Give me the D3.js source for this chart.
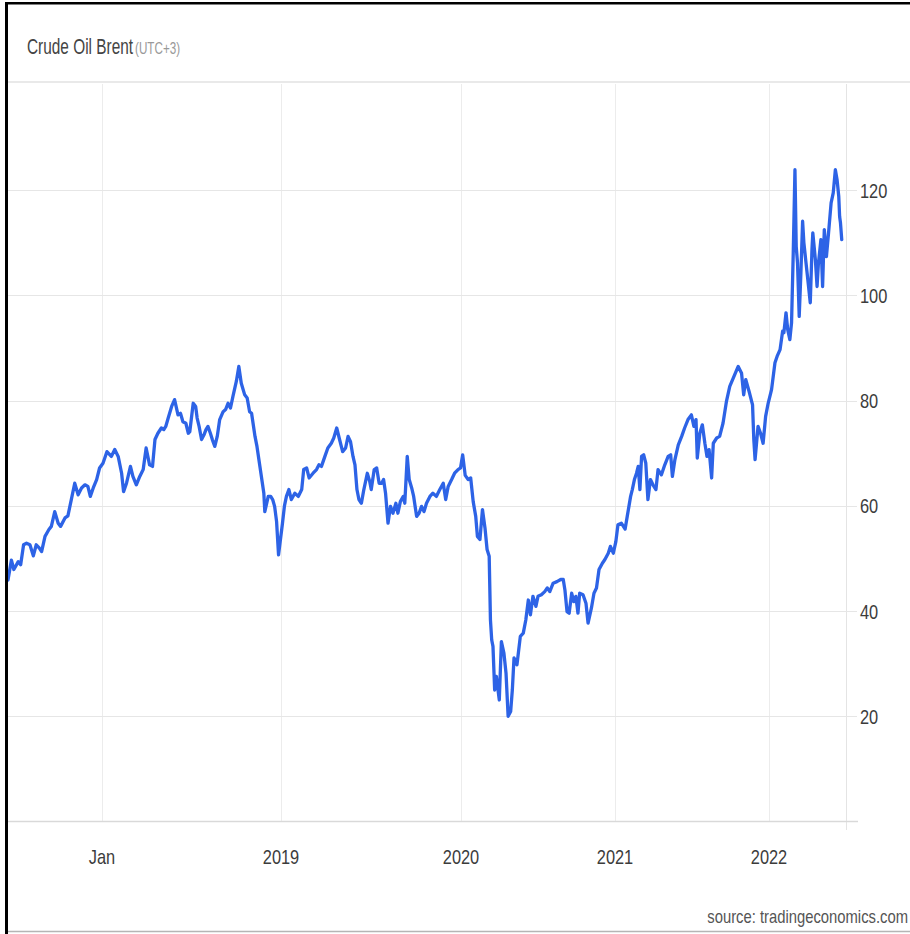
<!DOCTYPE html>
<html><head><meta charset="utf-8">
<script src="https://cdn.jsdelivr.net/npm/d3@7"></script>
<style>html,body{margin:0;padding:0;background:#fff}svg{display:block}</style>
</head><body>
<svg id="chart" width="910" height="934"></svg>
<script>
// ---------------- DATA ----------------
const title = "Crude Oil Brent";
const subtitle = "(UTC+3)";
const sourceText = "source: tradingeconomics.com";

const dates = [
"2017-06-22","2017-06-29","2017-07-04","2017-07-13","2017-07-18","2017-07-24","2017-07-30","2017-08-06","2017-08-13","2017-08-19",
"2017-08-25","2017-08-30","2017-09-06","2017-09-14","2017-09-19","2017-09-26","2017-10-03","2017-10-08","2017-10-17","2017-10-23",
"2017-10-30","2017-11-06","2017-11-13","2017-11-20","2017-11-27","2017-12-03","2017-12-08","2017-12-14","2017-12-21","2017-12-27",
"2018-01-03","2018-01-11","2018-01-20","2018-01-27","2018-02-03","2018-02-10","2018-02-14","2018-02-20","2018-02-28","2018-03-05",
"2018-03-12","2018-03-19","2018-03-26","2018-04-01","2018-04-08","2018-04-14","2018-04-19","2018-04-25","2018-05-02","2018-05-07",
"2018-05-11","2018-05-16","2018-05-23","2018-05-29","2018-06-05","2018-06-10","2018-06-15","2018-06-21","2018-06-26","2018-06-29",
"2018-07-06","2018-07-11","2018-07-14","2018-07-18","2018-07-23","2018-07-28","2018-08-01","2018-08-05","2018-08-10","2018-08-14",
"2018-08-19","2018-08-24","2018-08-29","2018-09-05","2018-09-10","2018-09-15","2018-09-20","2018-09-25","2018-10-02","2018-10-07",
"2018-10-12","2018-10-19","2018-10-24","2018-10-29","2018-11-02","2018-11-09","2018-11-13","2018-11-19","2018-11-22","2018-11-27",
"2018-11-29","2018-12-06","2018-12-11","2018-12-15","2018-12-19","2018-12-23","2018-12-27",
"2019-01-04","2019-01-08","2019-01-12","2019-01-17","2019-01-22","2019-01-29","2019-02-05","2019-02-12","2019-02-16","2019-02-22",
"2019-02-27","2019-03-07","2019-03-14","2019-03-19","2019-03-24","2019-03-31","2019-04-06","2019-04-13","2019-04-18","2019-04-24",
"2019-04-29","2019-05-06","2019-05-12","2019-05-17","2019-05-22","2019-05-27","2019-05-31","2019-06-04","2019-06-08","2019-06-13",
"2019-06-18","2019-06-25","2019-06-30","2019-07-03","2019-07-09","2019-07-14","2019-07-19","2019-07-24","2019-07-28","2019-08-01",
"2019-08-06","2019-08-11","2019-08-16","2019-08-22","2019-08-26","2019-08-31","2019-09-06","2019-09-09","2019-09-14","2019-09-18",
"2019-09-23","2019-09-27","2019-10-03","2019-10-08","2019-10-13","2019-10-18","2019-10-23","2019-10-30","2019-11-05","2019-11-12",
"2019-11-19","2019-11-26","2019-12-01","2019-12-06","2019-12-13","2019-12-19","2019-12-26","2019-12-31",
"2020-01-05","2020-01-11","2020-01-18","2020-01-24","2020-01-30","2020-02-05","2020-02-09","2020-02-15","2020-02-21","2020-02-27",
"2020-03-03","2020-03-08","2020-03-11","2020-03-14","2020-03-17","2020-03-21","2020-03-25","2020-04-01","2020-04-06","2020-04-12",
"2020-04-17","2020-04-22","2020-04-28","2020-05-02","2020-05-06","2020-05-13","2020-05-21","2020-05-28","2020-06-03","2020-06-09",
"2020-06-14","2020-06-20","2020-06-27","2020-07-02","2020-07-10","2020-07-18","2020-07-24","2020-07-30","2020-08-07","2020-08-16",
"2020-08-25","2020-08-31","2020-09-04","2020-09-09","2020-09-14","2020-09-20","2020-09-25","2020-09-30","2020-10-05","2020-10-09",
"2020-10-17","2020-10-24","2020-10-29","2020-11-06","2020-11-12","2020-11-18","2020-11-24","2020-12-02","2020-12-08","2020-12-16",
"2020-12-21","2020-12-28",
"2021-01-03","2021-01-08","2021-01-16","2021-01-25","2021-01-30","2021-02-03","2021-02-07","2021-02-11","2021-02-16","2021-02-21",
"2021-02-25","2021-03-01","2021-03-05","2021-03-10","2021-03-15","2021-03-20","2021-03-26","2021-04-01","2021-04-08","2021-04-13",
"2021-04-21","2021-04-29","2021-05-07","2021-05-13","2021-05-17","2021-05-23","2021-05-31","2021-06-08","2021-06-15","2021-06-23",
"2021-07-01","2021-07-07","2021-07-12","2021-07-15","2021-07-21","2021-07-27","2021-08-02","2021-08-07","2021-08-12","2021-08-18",
"2021-08-22","2021-08-30","2021-09-06","2021-09-14","2021-09-22","2021-09-30","2021-10-10","2021-10-20","2021-10-28","2021-11-02",
"2021-11-07","2021-11-15","2021-11-23","2021-11-26","2021-11-29","2021-12-06","2021-12-12","2021-12-18","2021-12-24","2021-12-30",
"2022-01-07","2022-01-15","2022-01-20","2022-01-27","2022-02-02","2022-02-05","2022-02-10","2022-02-14","2022-02-19","2022-02-23",
"2022-02-27","2022-03-03","2022-03-06","2022-03-09","2022-03-13","2022-03-17","2022-03-21","2022-03-24","2022-03-29","2022-04-04",
"2022-04-08","2022-04-12","2022-04-14","2022-04-20","2022-04-24","2022-04-27","2022-05-03","2022-05-07","2022-05-11","2022-05-16",
"2022-05-21","2022-05-27","2022-06-01","2022-06-06","2022-06-10","2022-06-14","2022-06-16","2022-06-18","2022-06-21"
];

const prices = [
45.9,49.7,47.9,49.4,48.8,52.6,52.9,52.6,50.5,52.6,
52.0,51.3,54.2,55.5,56.1,58.9,56.7,56.1,57.7,58.1,
61.2,64.3,62.1,63.4,64.0,63.7,61.8,63.4,65.0,67.2,
68.1,70.3,69.4,70.7,69.4,66.2,62.7,64.3,67.5,65.6,
64.0,65.6,66.9,71.0,67.8,67.5,72.6,73.8,74.8,74.5,
75.1,76.7,78.9,80.2,77.3,77.6,76.0,75.7,73.8,74.1,
79.5,78.9,76.7,75.1,72.6,73.5,74.5,75.1,73.8,72.6,
71.3,73.2,76.4,77.9,78.3,79.5,78.6,80.8,83.7,86.5,
83.3,81.1,80.5,77.9,77.6,73.2,71.3,67.5,65.6,62.4,
58.9,61.8,61.8,61.2,59.9,57.0,50.7,
56.7,60.0,61.8,63.1,61.2,62.4,61.8,63.1,66.9,67.2,
65.3,66.2,66.9,67.8,67.5,69.4,71.0,71.9,72.9,74.8,
72.9,70.3,71.0,73.2,72.2,69.4,67.8,63.1,61.2,60.5,
63.1,66.2,64.6,63.1,66.9,67.2,64.3,64.3,65.0,62.4,
56.7,59.9,58.6,60.5,58.6,60.8,61.8,60.5,69.4,65.0,
63.4,61.8,58.0,58.6,59.9,58.9,60.5,61.8,62.4,61.8,
63.1,64.3,61.2,63.7,65.0,66.2,66.9,67.2,
69.7,65.8,65.0,65.3,60.8,58.0,54.2,53.6,59.3,55.8,
51.7,50.4,38.3,34.5,33.3,25.0,27.6,23.1,34.2,32.0,
28.2,20.0,20.9,25.0,31.1,29.8,35.2,35.8,38.3,42.1,
39.3,42.8,40.9,42.8,43.1,43.7,44.4,43.7,45.3,45.6,
46.0,46.0,44.0,39.9,39.6,43.4,41.8,42.8,39.6,43.4,
43.1,41.5,37.7,40.6,43.4,44.4,47.9,49.1,49.8,51.0,
52.3,51.0,
53.2,56.4,56.7,55.6,58.0,59.9,61.8,63.1,65.0,66.2,
67.5,63.1,69.4,69.7,68.1,61.2,65.0,64.0,63.1,66.9,
65.9,67.8,69.4,69.7,65.6,68.8,71.6,73.2,74.8,76.4,
77.3,75.1,76.4,69.1,73.8,75.4,71.9,69.4,70.7,65.3,
71.9,72.9,73.2,75.7,79.8,82.7,84.6,86.5,85.2,81.1,
84.0,81.7,79.2,72.6,68.8,75.1,73.8,71.9,77.0,79.5,
82.1,87.2,88.4,89.7,93.2,92.9,96.7,93.5,91.6,94.8,
108.1,123.9,109.3,106.2,96.0,104.3,114.1,110.0,106.2,101.7,
98.6,108.7,111.9,106.8,101.7,105.9,110.6,101.7,112.5,107.4,
111.9,117.6,119.5,123.9,122.0,118.8,115.0,113.8,110.6
];

// axis anchors (time values) and tick labels
const xAnchorDates = ["2017-06-22","2018-01-01","2019-01-01","2020-01-01","2021-01-01","2022-01-01","2022-07-01"];
const xTickDates = ["2018-01-01","2019-01-01","2020-01-01","2021-01-01","2022-01-01"];
const xTickLabels = ["Jan","2019","2020","2021","2022"];
const yTicks = [20,40,60,80,100,120];
const yDomain = [0,140];

// ---------------- DRAW ----------------
const parse = d3.utcParse("%Y-%m-%d");
const data = dates.map((d,i)=>({date:parse(d), value:prices[i]}));

const svg = d3.select("#chart");
const font = "'Liberation Sans', Arial, sans-serif";

const x = d3.scaleUtc()
  .domain(xAnchorDates.map(parse))
  .range([8, 102, 281, 461, 615, 769, 846]);
const y = d3.scaleLinear().domain(yDomain).range([821.5, 85]);

// frame
svg.append("rect").attr("x",0).attr("y",0).attr("width",910).attr("height",934).attr("fill","#fff");
svg.append("line").attr("x1",5).attr("x2",910).attr("y1",931.5).attr("y2",931.5).attr("stroke","#b5b5b5").attr("stroke-width",1.5);
svg.append("line").attr("x1",8).attr("x2",910).attr("y1",82).attr("y2",82).attr("stroke","#e2e2e2").attr("stroke-width",1.5);

// vertical gridlines
const xTicks = xTickDates.map(parse);
svg.append("g").selectAll("line").data(xTicks).join("line")
  .attr("x1",d=>Math.round(x(d))+0.5).attr("x2",d=>Math.round(x(d))+0.5)
  .attr("y1",84).attr("y2",821)
  .attr("stroke","#ececec").attr("stroke-width",1);

// right axis line
svg.append("line").attr("x1",846.5).attr("x2",846.5).attr("y1",84).attr("y2",830)
  .attr("stroke","#e4e4e4").attr("stroke-width",1);

// horizontal gridlines
svg.append("g").selectAll("line").data(yTicks).join("line")
  .attr("x1",8).attr("x2",857)
  .attr("y1",d=>Math.round(y(d))+0.5).attr("y2",d=>Math.round(y(d))+0.5)
  .attr("stroke","#e6e6e6").attr("stroke-width",1.2);

// baseline
svg.append("line").attr("x1",8).attr("x2",858).attr("y1",821.5).attr("y2",821.5)
  .attr("stroke","#d9d9d9").attr("stroke-width",1.5);

// y labels
svg.append("g").selectAll("text").data(yTicks).join("text")
  .attr("transform",d=>`translate(860,${y(d)+7.5}) scale(0.8,1)`)
  .attr("font-family",font).attr("font-size",20.5).attr("fill","#3c3c3c")
  .text(d=>d);

// x labels
svg.append("g").selectAll("text").data(xTicks).join("text")
  .attr("transform",d=>`translate(${x(d)},864) scale(0.8,1)`)
  .attr("text-anchor","middle")
  .attr("font-family",font).attr("font-size",20.5).attr("fill","#3c3c3c")
  .text((d,i)=>xTickLabels[i]);

// line
const line = d3.line().x(d=>x(d.date)).y(d=>y(d.value));
svg.append("path").datum(data)
  .attr("d",line).attr("fill","none")
  .attr("stroke","#2d63e6").attr("stroke-width",3.3)
  .attr("stroke-linejoin","round").attr("stroke-linecap","round");

// title
svg.append("text").attr("transform","translate(27,54) scale(0.70,1)")
  .attr("font-family",font).attr("font-size",22).attr("fill","#444").text(title);
svg.append("text").attr("transform","translate(135,54) scale(0.73,1)")
  .attr("font-family",font).attr("font-size",16).attr("fill","#999").text(subtitle);

// source
svg.append("text").attr("transform","translate(908,923) scale(0.8,1)")
  .attr("text-anchor","end")
  .attr("font-family",font).attr("font-size",18.5).attr("fill","#555").text(sourceText);

// borders (black)
svg.append("rect").attr("x",5).attr("y",2).attr("width",905).attr("height",2.5).attr("fill","#000");
svg.append("rect").attr("x",5).attr("y",2).attr("width",3).attr("height",932).attr("fill","#000");
</script>
</body></html>
